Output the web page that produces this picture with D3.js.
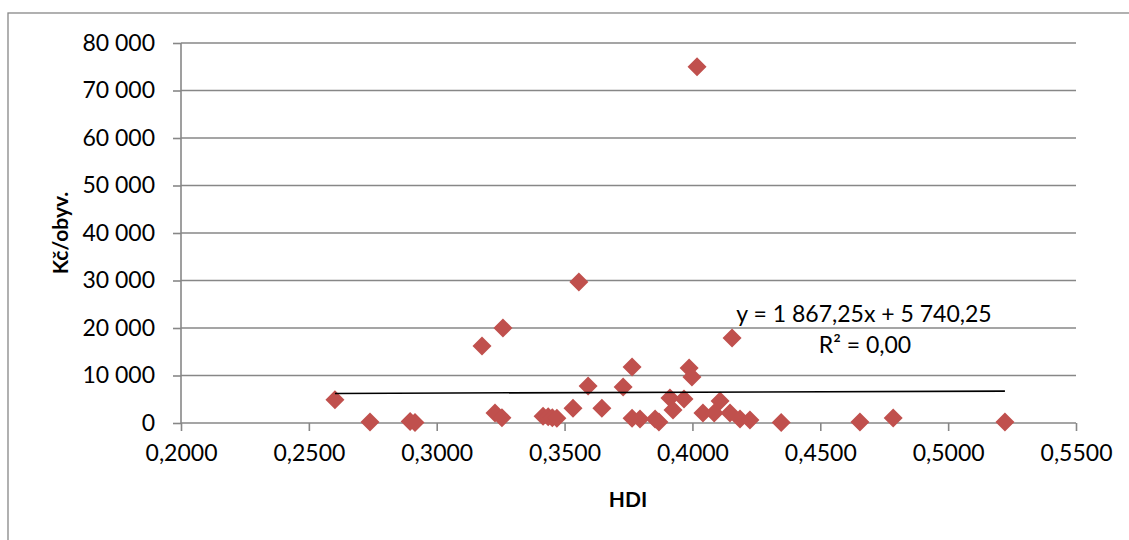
<!DOCTYPE html>
<html><head><meta charset="utf-8">
<script src="https://cdn.jsdelivr.net/npm/d3@7"></script>
<style>body{margin:0;background:#fff;} svg{display:block;font-family:Lato,"Open Sans",sans-serif;}</style>
</head><body>
<svg id="c" width="1129" height="540"></svg>
<script>
const hdi = [0.2602,0.2739,0.2896,0.2915,0.3177,0.3259,0.3228,0.3255,0.3416,0.3436,0.3452,0.3470,0.3533,0.3556,0.3592,0.3646,0.3729,0.3764,0.3764,0.3795,0.3854,0.3869,0.3912,0.3924,0.3967,0.3987,0.3998,0.4018,0.4041,0.4085,0.4108,0.4147,0.4155,0.4186,0.4225,0.4347,0.4655,0.4785,0.5222];
const kc  = [4900,200,300,100,16200,20000,2100,1100,1400,1300,1100,1000,3100,29700,7800,3100,7600,11800,1000,840,840,200,5260,2740,5050,11580,9680,75000,2100,2100,4630,2100,17900,840,630,100,200,1050,200];
const xTicks = [0.20,0.25,0.30,0.35,0.40,0.45,0.50,0.55];
const yTicks = [0,10000,20000,30000,40000,50000,60000,70000,80000];
const trendSlope = 1867.25, trendIntercept = 5740.25;
const eqLabel = "y = 1 867,25x + 5 740,25";
const r2Label = "R² = 0,00";
const xTitle = "HDI", yTitle = "Kč/obyv.";

const svg = d3.select("#c");
const x = d3.scaleLinear().domain([0.2,0.55]).range([181,1076]);
const y = d3.scaleLinear().domain([0,80000]).range([423,43]);
const grey = "#878787";

svg.append("rect").attr("x",8).attr("y",13).attr("width",1140).attr("height",540)
  .attr("fill","none").attr("stroke",grey).attr("stroke-width",1.3);

// gridlines
svg.append("g").selectAll("line").data(yTicks.filter(d=>d>0)).join("line")
  .attr("x1",x(0.2)).attr("x2",x(0.55)).attr("y1",d=>y(d)).attr("y2",d=>y(d))
  .attr("stroke",grey).attr("stroke-width",1.6);

const fmtY = d => d3.format(",")(d).replace(/,/g," ");
const fmtX = d => d.toFixed(4).replace(".",",");

const ya = svg.append("g").attr("transform",`translate(${x(0.2)},0)`)
  .call(d3.axisLeft(y).tickValues(yTicks).tickFormat(fmtY).tickSize(8).tickPadding(18));
const xa = svg.append("g").attr("transform",`translate(0,${y(0)})`)
  .call(d3.axisBottom(x).tickValues(xTicks).tickFormat(fmtX).tickSize(8).tickPadding(14));
[ya,xa].forEach(a=>{
  a.selectAll("path.domain").attr("stroke",grey).attr("stroke-width",1.6);
  a.selectAll(".tick line").attr("stroke",grey).attr("stroke-width",1.6);
  a.selectAll("text").attr("font-size",23).attr("fill","#000").attr("font-family","Lato,'Open Sans',sans-serif");
});
ya.select("path.domain").attr("d",`M0,${y(80000)}V${y(0)}`);
xa.select("path.domain").attr("d",`M${x(0.2)},0H${x(0.55)}`);

// points
const r = 9.5;
svg.append("g").selectAll("path").data(hdi.map((h,i)=>[h,kc[i]])).join("path")
  .attr("d",d=>{const cx=x(d[0]),cy=y(d[1]);return `M${cx},${cy-r}L${cx+r},${cy}L${cx},${cy+r}L${cx-r},${cy}Z`;})
  .attr("fill","#C0504D");

// trendline
const x0 = d3.min(hdi), x1 = d3.max(hdi);
svg.append("line").attr("x1",x(x0)).attr("x2",x(x1))
  .attr("y1",y(trendSlope*x0+trendIntercept)).attr("y2",y(trendSlope*x1+trendIntercept))
  .attr("stroke","#000").attr("stroke-width",1.6);

svg.append("text").attr("x",864).attr("y",322).attr("text-anchor","middle").attr("font-size",23).text(eqLabel);
svg.append("text").attr("x",865).attr("y",353).attr("text-anchor","middle").attr("font-size",23).text(r2Label);

svg.append("text").attr("x",628).attr("y",507).attr("text-anchor","middle").attr("font-size",21).attr("font-weight","bold").text(xTitle);
svg.append("text").attr("transform","translate(68,233) rotate(-90)").attr("text-anchor","middle").attr("font-size",21).attr("font-weight","bold").text(yTitle);
</script>
</body></html>
